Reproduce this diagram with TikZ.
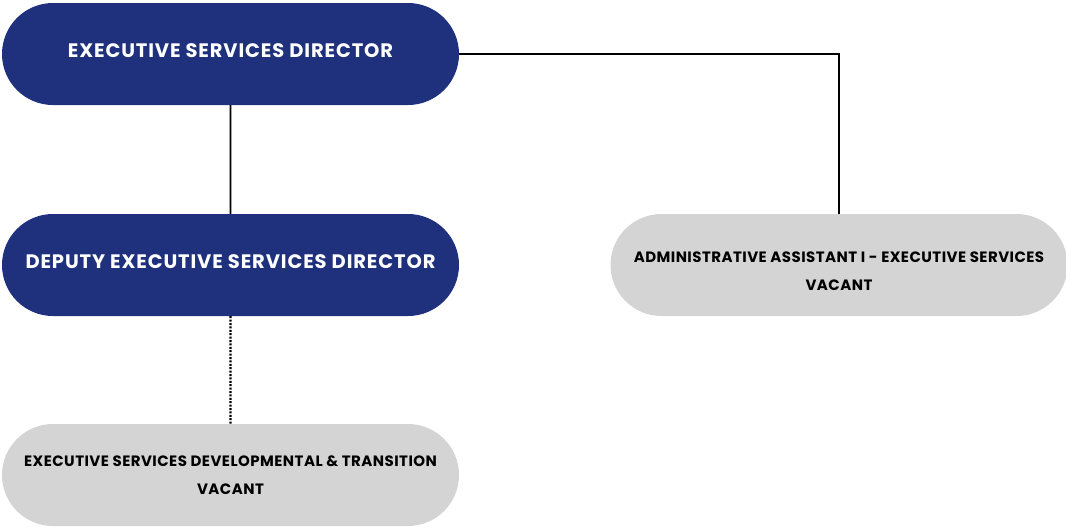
\documentclass[tikz,border=0pt]{standalone}
\usepackage{fontspec}
\setmainfont{Poppins}
\usetikzlibrary{shapes.misc, positioning}
\definecolor{execnavy}{RGB}{31, 48, 124}
\definecolor{vacantgray}{RGB}{212, 212, 212}

\begin{document}
\begin{tikzpicture}[x=1pt, y=-1pt,
  pill/.style={rounded rectangle, minimum width=457pt, minimum height=102pt, inner sep=0pt, align=center},
  filled/.style={pill, fill=execnavy, text=white, text depth=7pt,
    font=\fontsize{19.5}{23}\selectfont\bfseries\addfontfeatures{LetterSpace=4.5}},
  vacanttext/.style={align=center, text=black, inner sep=0pt,
    font=\fontsize{15}{28}\selectfont\bfseries\addfontfeatures{LetterSpace=3}},
  vacant/.style={pill, fill=vacantgray, vacanttext},
  link/.style={line width=1.8pt}]
  \useasboundingbox (0,0) rectangle (1066,528);

  % Filled positions
  \node[filled] (director) at (230.5, 54) {EXECUTIVE SERVICES DIRECTOR};
  \node[filled] (deputy) at (230.5, 265) {DEPUTY EXECUTIVE SERVICES DIRECTOR};

  % Vacant positions (admin text sits a little low in its box)
  \node[vacant] (transition) at (230.5, 475) {EXECUTIVE SERVICES DEVELOPMENTAL \& TRANSITION\\VACANT};
  \node[vacant, label={[name=admintext, vacanttext, yshift=-6pt]center:ADMINISTRATIVE ASSISTANT I - EXECUTIVE SERVICES\\VACANT}]
    (admin) at (839, 265) {};

  % Reporting lines
  \draw[link] (director) -- (deputy);
  \draw[link] (director.east) -| (admin.north);
  \draw[link, line width=2.2pt, dash pattern=on 2pt off 1.4pt] (deputy) -- (transition);
\end{tikzpicture}
\end{document}
